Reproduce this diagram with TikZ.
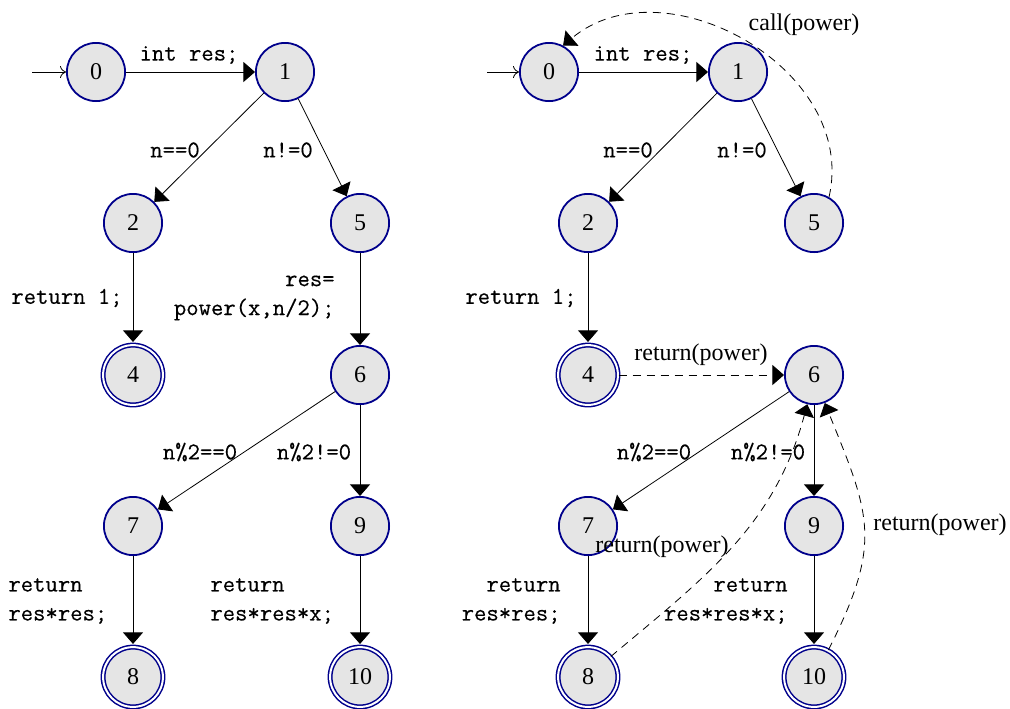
\documentclass[tikz,border=0pt]{standalone}
\usepackage{fontspec}
\setmainfont{Liberation Serif}
\setmonofont{Latin Modern Mono}[FakeBold=0.35]
\usetikzlibrary{arrows.meta}
\definecolor{navyc}{RGB}{0,0,139}
\begin{document}
\begin{tikzpicture}[x=0.5pt,y=0.5pt,
  st/.style={circle, draw=navyc, fill=black!10, line width=0.9pt, minimum size=29.1pt, inner sep=0pt, font=\fontsize{12}{14}\selectfont},
  acc/.style={st, double=white, line width=0.75pt, double distance=1.0pt, minimum size=29.9pt},
  edge/.style={-{Triangle[length=5.8pt,width=10pt]}, line width=0.4pt},
  accedge/.style={edge, shorten >=1.2pt},
  dedge/.style={edge, dash pattern=on 4pt off 3pt},
  startedge/.style={-{To[length=3pt,width=6pt]}, line width=0.4pt},
  tlab/.style={inner sep=0pt, font=\fontsize{12}{14.5}\selectfont\ttfamily},
  slab/.style={inner sep=0pt, font=\fontsize{12}{14.5}\selectfont}
]
\useasboundingbox (0,0) rectangle (1010,-708);

% ---------- left graph ----------
\coordinate (ls) at (32,-72);
\node[st]  (l0)  at (96,-72)  {0};
\node[st]  (l1)  at (285,-72) {1};
\node[st]  (l2)  at (133,-223) {2};
\node[st]  (l5)  at (360,-223) {5};
\node[acc] (l4)  at (133,-375) {4};
\node[st]  (l6)  at (360,-375) {6};
\node[st]  (l7)  at (133,-526) {7};
\node[st]  (l9)  at (360,-526) {9};
\node[acc] (l8)  at (133,-677) {8};
\node[acc] (l10) at (360,-677) {10};

\draw[startedge] (ls) -- (l0);
\draw[edge] (l0) -- (l1);
\draw[edge] (l1) -- (l2);
\draw[edge] (l1) -- (l5);
\draw[accedge] (l2) -- (l4);
\draw[edge] (l5) -- (l6);
\draw[edge] (l6) -- (l7);
\draw[edge] (l6) -- (l9);
\draw[accedge] (l7) -- (l8);
\draw[accedge] (l9) -- (l10);

\node[tlab] (la01) at (189,-55) {int res;};
\node[tlab] (la12) at (175,-150) {n==0};
\node[tlab] (la15) at (288,-150) {n!=0};
\node[tlab, anchor=east] (la24) at (123,-298) {return 1;};
\node[tlab, anchor=east, align=right] (la56) at (335,-298) {res=\\power(x,n/2);};
\node[tlab] (la67) at (200,-452) {n\%2==0};
\node[tlab] (la69) at (314,-452) {n\%2!=0};
\node[tlab, anchor=west, align=left] (la78) at (8,-601) {return\\res*res;};
\node[tlab, anchor=west, align=left] (la910) at (210,-601) {return\\res*res*x;};

% ---------- right graph ----------
\coordinate (rs) at (487,-72);
\node[st]  (r0)  at (549,-72)  {0};
\node[st]  (r1)  at (738,-72)  {1};
\node[st]  (r2)  at (588,-223) {2};
\node[st]  (r5)  at (814,-223) {5};
\node[acc] (r4)  at (588,-375) {4};
\node[st]  (r6)  at (814,-375) {6};
\node[st]  (r7)  at (588,-526) {7};
\node[st]  (r9)  at (814,-526) {9};
\node[acc] (r8)  at (588,-677) {8};
\node[acc] (r10) at (814,-677) {10};

\draw[startedge] (rs) -- (r0);
\draw[edge] (r0) -- (r1);
\draw[edge] (r1) -- (r2);
\draw[edge] (r1) -- (r5);
\draw[accedge] (r2) -- (r4);
\draw[edge] (r6) -- (r7);
\draw[edge] (r6) -- (r9);
\draw[accedge] (r7) -- (r8);
\draw[accedge] (r9) -- (r10);

\draw[dedge] (r5.60) to[out=77, in=40, looseness=1.1] (r0.62);
\draw[dedge] (r4) -- (r6);
\draw[dedge] (r8.42) to[out=40, in=255] (r6.257);
\draw[dedge] (r10.62) to[out=63, in=-68, looseness=1.25] (r6.-69);

\node[tlab] (ra01) at (643,-55) {int res;};
\node[tlab] (ra12) at (628,-150) {n==0};
\node[tlab] (ra15) at (742,-150) {n!=0};
\node[tlab, anchor=east] (ra24) at (577,-298) {return 1;};
\node[tlab] (ra67) at (654,-452) {n\%2==0};
\node[tlab] (ra69) at (768,-452) {n\%2!=0};
\node[tlab, anchor=east, align=right] (ra78) at (561,-601) {return\\res*res;};
\node[tlab, anchor=east, align=right] (ra910) at (788,-601) {return\\res*res*x;};

\node[slab] (ra50) at (804,-25) {call(power)};
\node[slab] (ra46) at (701,-355) {return(power)};
\node[slab] (ra86) at (662,-547) {return(power)};
\node[slab, anchor=west] (ra106) at (873,-525) {return(power)};
\end{tikzpicture}
\end{document}
